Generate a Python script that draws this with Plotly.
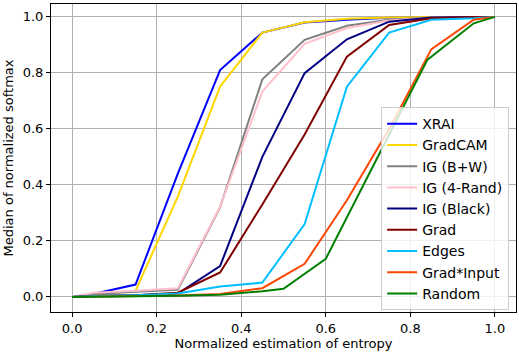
import plotly.graph_objects as go

# values
x_std = [0, 0.05, 0.15, 0.25, 0.35, 0.45, 0.55, 0.65, 0.75, 0.85, 0.95, 1.0]
xrai = [0, 0.01, 0.044, 0.44, 0.81, 0.944, 0.98, 0.99, 0.997, 1.0, 1.0, 1.0]
gradcam = [0, 0.008, 0.022, 0.358, 0.751, 0.944, 0.981, 0.993, 0.998, 1.0, 1.0, 1.0]
ig_bw = [0, 0.01, 0.018, 0.025, 0.32, 0.777, 0.918, 0.968, 0.99, 0.998, 1.0, 1.0]
ig_4rand = [0, 0.015, 0.022, 0.031, 0.322, 0.733, 0.904, 0.96, 0.987, 0.997, 1.0, 1.0]
ig_black = [0, 0.003, 0.006, 0.012, 0.11, 0.5, 0.799, 0.92, 0.983, 0.998, 1.0, 1.0]
grad = [0, 0.003, 0.006, 0.015, 0.087, 0.33, 0.58, 0.858, 0.971, 0.995, 1.0, 1.0]
edges = [0, 0.003, 0.006, 0.012, 0.037, 0.051, 0.26, 0.751, 0.944, 0.99, 0.995, 1.0]

x_gi = [0, 0.15, 0.25, 0.35, 0.45, 0.55, 0.65, 0.75, 0.85, 0.95, 1.0]
grad_input = [0, 0.003, 0.005, 0.01, 0.031, 0.118, 0.345, 0.6, 0.885, 0.99, 1.0]

x_rand = [0, 0.15, 0.25, 0.35, 0.45, 0.5, 0.6, 0.84, 0.95, 1.0]
random_ = [0, 0.002, 0.004, 0.008, 0.02, 0.029, 0.136, 0.846, 0.977, 1.0]

series = [
    ("XRAI", x_std, xrai, "#0000ff"),
    ("GradCAM", x_std, gradcam, "#ffd700"),
    ("IG (B+W)", x_std, ig_bw, "#808080"),
    ("IG (4-Rand)", x_std, ig_4rand, "#ffc0cb"),
    ("IG (Black)", x_std, ig_black, "#000080"),
    ("Grad", x_std, grad, "#800000"),
    ("Edges", x_std, edges, "#00bfff"),
    ("Grad*Input", x_gi, grad_input, "#ff4500"),
    ("Random", x_rand, random_, "#008000"),
]

fig = go.Figure()
for name, xs, ys, color in series:
    fig.add_trace(go.Scatter(x=xs, y=ys, mode="lines", name=name,
                             line=dict(color=color, width=2)))

axis_style = dict(
    showgrid=True, gridcolor="#b0b0b0", gridwidth=1,
    showline=True, linecolor="black", linewidth=1, mirror=True,
    ticks="outside", ticklen=4, tickcolor="black",
    zeroline=False, dtick=0.2, tickformat=".1f", automargin=False,
    tickfont=dict(size=13),
)

fig.update_layout(
    width=519, height=354,
    margin=dict(l=51, r=3, t=4, b=42),
    paper_bgcolor="white", plot_bgcolor="white",
    font=dict(family="DejaVu Sans", size=13, color="black"),
    showlegend=True,
    legend=dict(
        x=0.71, y=0.665, xanchor="left", yanchor="top",
        bgcolor="rgba(255,255,255,0.8)", bordercolor="#cccccc", borderwidth=1,
        font=dict(size=14), tracegroupgap=0, itemwidth=30,
    ),
)
fig.update_xaxes(range=[-0.05, 1.05],
                 title=dict(text="Normalized estimation of entropy", standoff=4, font=dict(size=13)),
                 **axis_style)
fig.update_yaxes(range=[-0.054, 1.046],
                 title=dict(text="Median of normalized softmax", standoff=6, font=dict(size=13)),
                 **axis_style)

# drop the page's default body margin so the figure sits at the top-left corner
fig.write_html("out.html", config={"displayModeBar": False},
               post_script="document.body.style.margin='0';")
